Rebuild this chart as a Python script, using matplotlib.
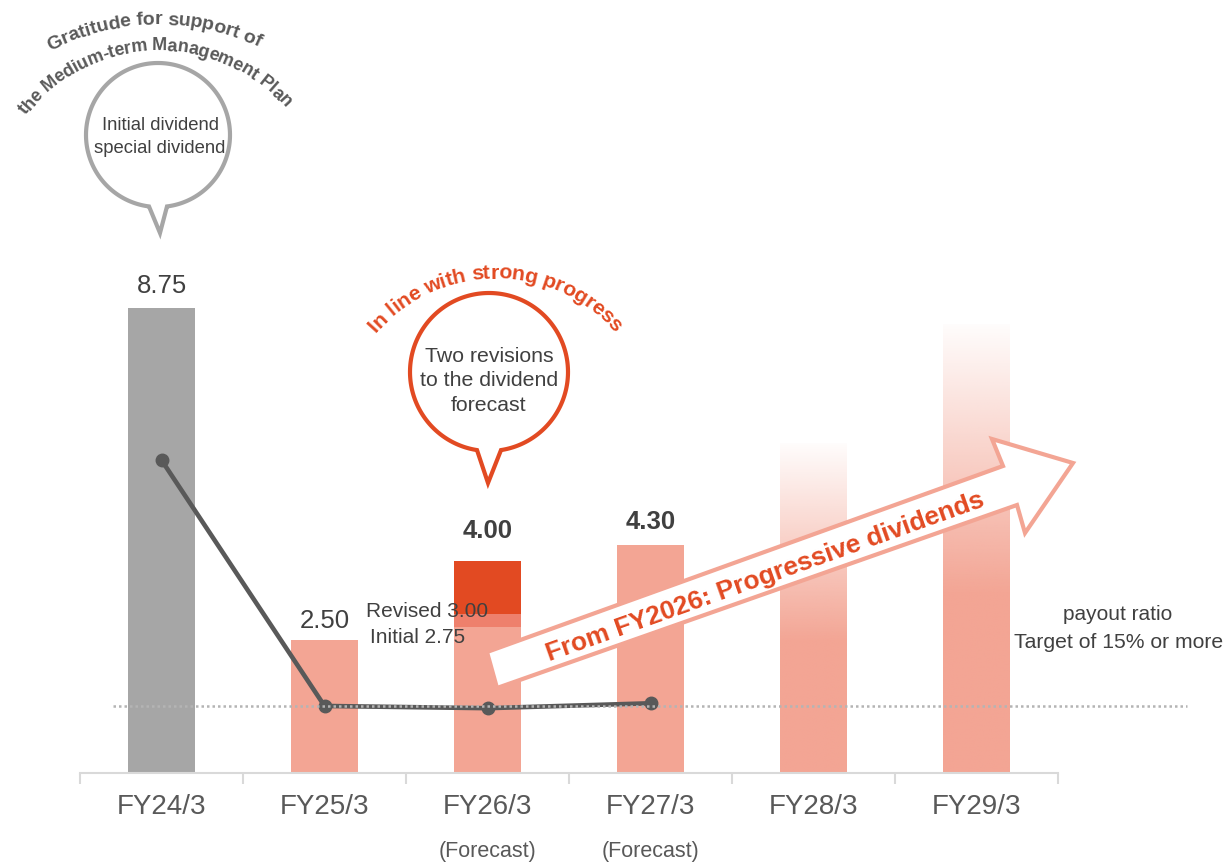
import numpy as np
import matplotlib
matplotlib.use('Agg')
import matplotlib.pyplot as plt
from matplotlib.patches import Polygon
from matplotlib.transforms import Affine2D, blended_transform_factory
from matplotlib.font_manager import FontProperties

plt.rcParams['font.family'] = ['Liberation Sans', 'DejaVu Sans']

# --- data: dividend per share (yen) and payout ratio (%) ---
years = ['FY24/3', 'FY25/3', 'FY26/3', 'FY27/3', 'FY28/3', 'FY29/3']
notes = ['', '', '(Forecast)', '(Forecast)', '', '']
dividends = [8.75, 2.50, 4.00, 4.30]
fy26_initial = 2.75
fy26_revised = 3.00
future_heights = [6.2, 8.45]        # image bars for the progressive period
payout = [70.0, 15.0, 14.5, 15.6]
payout_target = 15.0

GRAY = '#A6A6A6'
SALMON = '#F3A594'
MID = '#EE806C'
RED = '#E24A22'
TXT = '#404040'

W, H = 1232, 864
fig = plt.figure(figsize=(W / 100, H / 100), dpi=100)
ax = fig.add_axes([80 / W, 91 / H, 978 / W, 773 / H])
# pixel coordinates, origin at top-left
px = Affine2D().scale(1 / W, -1 / H).translate(0, 1) + fig.transFigure

x = np.arange(len(years))
bw = 0.405

ax.bar(x[0], dividends[0], bw, color=GRAY, zorder=2)
ax.bar(x[1], dividends[1], bw, color=SALMON, zorder=2)
ax.bar(x[2], fy26_initial, bw, color=SALMON, zorder=2)
ax.bar(x[2], fy26_revised - fy26_initial, bw, bottom=fy26_initial, color=MID, zorder=2)
ax.bar(x[2], dividends[2] - fy26_revised, bw, bottom=fy26_revised, color=RED, zorder=2)
ax.bar(x[3], dividends[3], bw, color=SALMON, zorder=2)

# fading bars for FY28/3 and FY29/3
rgb = matplotlib.colors.to_rgb(SALMON)
t = np.linspace(0, 1, 300)
alpha = np.clip(1 - 0.97 * (t - 0.4) / 0.6, 0, 1)
grad = np.zeros((300, 1, 4))
grad[..., 0], grad[..., 1], grad[..., 2] = rgb
grad[:, 0, 3] = alpha
for xi, h in zip(x[4:], future_heights):
    ax.imshow(grad, extent=(xi - bw / 2, xi + bw / 2, 0, h), origin='lower',
              aspect='auto', interpolation='bilinear', zorder=2)

label_pad = [11, 9, 16, 11]
for i, v in enumerate(dividends):
    ax.annotate(f'{v:.2f}', (x[i], v), xytext=(0, label_pad[i]), textcoords='offset points',
                ha='center', va='baseline', fontsize=18.5, color=TXT,
                fontweight='bold' if i >= 2 else 'normal', zorder=5)

ax.text(x[2] - 0.37, fy26_revised + 0.05, f'Revised {fy26_revised:.2f}', ha='center',
        va='center', fontsize=15, color=TXT, zorder=5)
ax.text(x[2] - 0.43, fy26_initial - 0.19, f'Initial {fy26_initial:.2f}', ha='center',
        va='center', fontsize=15, color=TXT, zorder=5)

ax.set_xlim(-0.5, 5.5)
ax.set_ylim(0, 773 / 53.1)
ax.set_xticks(x, years)
ax.set_xticks(np.arange(-0.5, 6, 1), minor=True)
ax.tick_params(axis='x', which='major', length=0, pad=15, labelsize=20, labelcolor='#595959')
ax.tick_params(axis='x', which='minor', length=8, width=1.5, color='#D9D9D9')
ax.set_yticks([])
for s in ['top', 'left', 'right']:
    ax.spines[s].set_visible(False)
ax.spines['bottom'].set_color('#D9D9D9')
ax.spines['bottom'].set_linewidth(1.5)

blend = blended_transform_factory(ax.transData, px)
for xi, n in zip(x, notes):
    if n:
        ax.text(xi, 851, n, transform=blend, ha='center', va='center',
                fontsize=15.5, color='#595959')

# payout ratio on its own scale
ax2 = ax.twinx()
ax2.set_ylim(0, 773 / 4.47)
ax2.plot(x[:len(payout)], payout, color='#595959', lw=3.3, marker='o', ms=9, zorder=3)
ax2.axhline(payout_target, xmin=0.034, xmax=1.132, color='#B4B4B4', lw=1.8,
            ls=(0, (1, 1.2)), zorder=4, clip_on=False)
ax2.axis('off')

fig.text(1118, 614, 'payout ratio', transform=px, ha='center', va='center',
         fontsize=15, color=TXT)
fig.text(1119, 643, 'Target of 15% or more', transform=px, ha='center', va='center',
         fontsize=15.2, color=TXT)


def bubble(cx, cy, r, tip, half, color):
    d = np.arcsin(half / r)
    th = np.linspace(d, 2 * np.pi - d, 240)
    pts = np.column_stack([cx + r * np.sin(th), cy + r * np.cos(th)])
    pts = np.vstack([tip, pts])
    fig.add_artist(Polygon(pts, closed=True, transform=px, facecolor='white',
                           edgecolor=color, lw=3, joinstyle='miter'))


renderer = fig.canvas.get_renderer()


def arc_text(s, cx, cy, r, center_deg, size, color):
    fp = FontProperties(family='Liberation Sans', weight='bold', size=size)

    def width(txt):
        return renderer.get_text_width_height_descent(txt, fp, ismath=False)[0]

    total = width(s)
    for i, ch in enumerate(s):
        if ch == ' ':
            continue
        c = width(s[:i + 1]) - width(ch) / 2 - total / 2
        th = np.radians(center_deg) + c / r
        fig.text(cx + r * np.sin(th), cy - r * np.cos(th), ch, transform=px,
                 rotation=-np.degrees(th), rotation_mode='anchor', ha='center',
                 va='center', fontproperties=fp, color=color)


# left bubble: special dividend
bubble(158, 135, 72, (160, 233), 9, GRAY)
fig.text(160, 137, 'Initial dividend\nspecial dividend', transform=px, ha='center',
         va='center', fontsize=13.3, color=TXT, linespacing=1.4)
arc_text('Gratitude for support of', 158, 258, 238, -1, 14, '#595959')
arc_text('the Medium-term Management Plan', 158, 218, 172, -1.5, 13, '#595959')

# middle bubble: revisions
bubble(489, 372, 79, (488, 483), 12, RED)
fig.text(489, 381, 'Two revisions\nto the dividend\nforecast', transform=px,
         ha='center', va='center', fontsize=15.3, color=TXT, linespacing=1.37)
arc_text('In line with strong progress', 495, 437, 164, 0, 15.3, RED)

# big arrow
arrow_pts = [(497, 688), (487, 652), (1003, 466), (992, 439), (1073, 463),
             (1025, 533), (1017, 505)]
fig.add_artist(Polygon(arrow_pts, closed=True, transform=px, facecolor='white',
                       edgecolor=SALMON, lw=3, joinstyle='miter'))
fig.text(765, 577, 'From FY2026: Progressive dividends', transform=px, rotation=19.6,
         rotation_mode='anchor', ha='center', va='center', fontsize=19,
         fontweight='bold', color=RED)

fig.savefig('out.png', dpi=100)
